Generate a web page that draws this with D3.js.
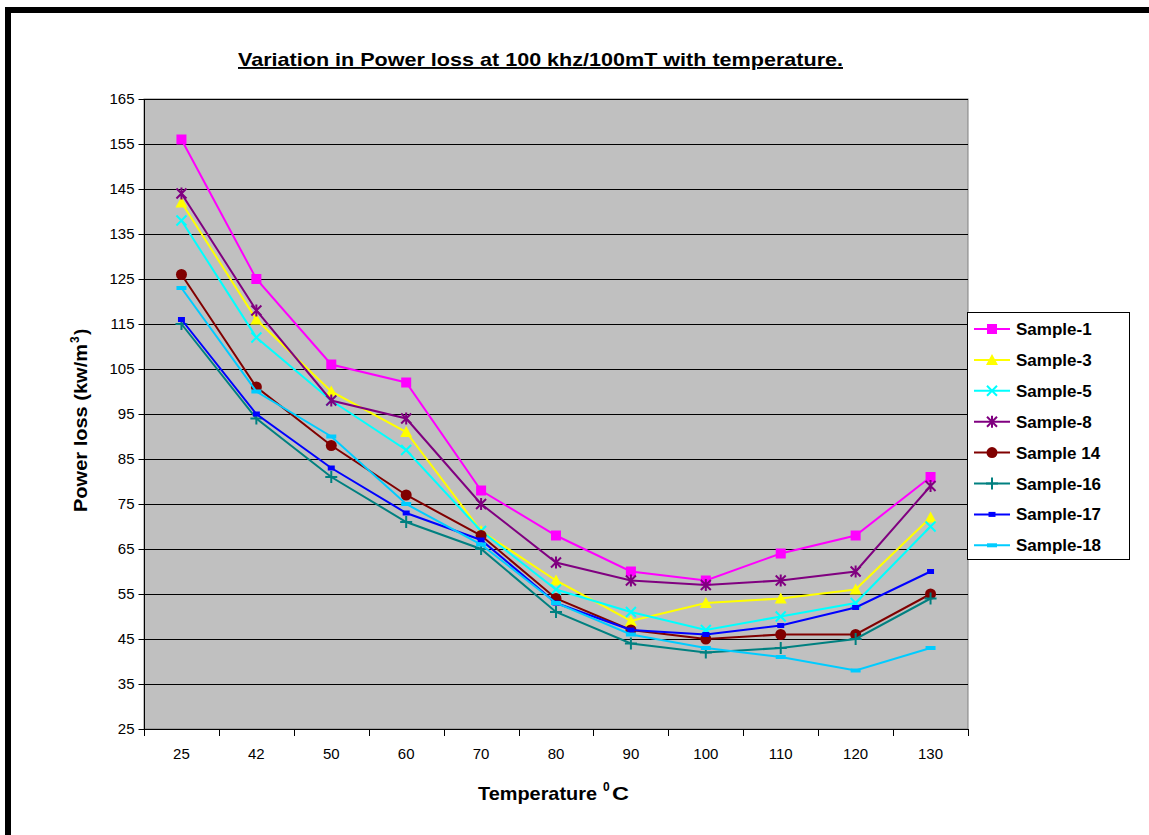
<!DOCTYPE html>
<html><head><meta charset="utf-8">
<script src="https://cdn.jsdelivr.net/npm/d3@7/dist/d3.min.js"></script>
<style>body{margin:0;background:#fff;}svg{display:block;font-family:"Liberation Sans",Arial,sans-serif;}</style>
</head><body>
<svg id="c" width="1149" height="835"></svg>
<script>
const categories = ["25","42","50","60","70","80","90","100","110","120","130"];
const yTicks = [25,35,45,55,65,75,85,95,105,115,125,135,145,155,165];
const seriesNames = ["Sample-1","Sample-3","Sample-5","Sample-8","Sample 14","Sample-16","Sample-17","Sample-18"];
const sample1  = [156,125,106,102,78,68,60,58,64,68,81];
const sample3  = [142,116,100,91,69,58,49,53,54,56,72];
const sample5  = [138,112,98,87,69,56,51,47,50,53,70];
const sample8  = [144,118,98,94,75,62,58,57,58,60,79];
const sample14 = [126,101,88,77,68,54,47,45,46,46,55];
const sample16 = [115,94,81,71,65,51,44,42,43,45,54];
const sample17 = [116,95,83,73,67,53,47,46,48,52,60];
const sample18 = [123,100,90,75,66,53,46,43,41,38,43];
const seriesValues = [sample1,sample3,sample5,sample8,sample14,sample16,sample17,sample18];
const colors = ["#FF00FF","#FFFF00","#00FFFF","#800080","#800000","#008080","#0000FF","#00CCFF"];
const markers = ["square","triangle","x","asterisk","circle","plus","smalldash","dash"];

const svg = d3.select("#c");
// frame
svg.append("rect").attr("x",5).attr("y",7).attr("width",1144).attr("height",6).attr("fill","#000");
svg.append("rect").attr("x",5).attr("y",7).attr("width",6).attr("height",828).attr("fill","#000");

const L=144,R=968,T=99,B=729;
const x = d3.scaleBand().domain(categories).range([L,R]);
const y = d3.scaleLinear().domain([25,165]).range([B,T]);

svg.append("rect").attr("x",L).attr("y",T).attr("width",R-L).attr("height",B-T).attr("fill","#C0C0C0").attr("stroke","#808080").attr("stroke-width",1);

// gridlines
svg.append("g").selectAll("line").data(yTicks.filter(v=>v>25)).join("line")
  .attr("x1",L).attr("x2",R).attr("y1",d=>Math.round(y(d))+0.5).attr("y2",d=>Math.round(y(d))+0.5)
  .attr("stroke","#000").attr("stroke-width",1);

// y axis
const ya = svg.append("g").attr("transform",`translate(${L+0.5},0)`)
  .call(d3.axisLeft(y).tickValues(yTicks).tickSize(6).tickPadding(4).tickFormat(d3.format("d")));
ya.select(".domain").attr("stroke","#000").attr("d",`M0,${T}V${B}`);
ya.selectAll(".tick line").attr("stroke","#000");
ya.selectAll(".tick text").attr("font-size",15).attr("fill","#000").attr("font-family","Liberation Sans, Arial, sans-serif");

// x axis
const xa = svg.append("g").attr("transform",`translate(0,${B+0.5})`)
  .call(d3.axisBottom(x).tickSize(0).tickPadding(19));
xa.select(".domain").attr("stroke","#000").attr("d",`M${L},0H${R}`);
xa.selectAll(".tick text").attr("font-size",15).attr("fill","#000").attr("font-family","Liberation Sans, Arial, sans-serif");
const bounds = categories.map(c=>x(c)).concat([R]);
svg.append("g").selectAll("line").data(bounds).join("line")
  .attr("x1",d=>Math.round(d)+0.5).attr("x2",d=>Math.round(d)+0.5).attr("y1",B).attr("y2",B+7).attr("stroke","#000");

// markers
function drawMarker(g, type, color, cx, cy){
  const s=5;
  if(type==="square") g.append("rect").attr("x",cx-s).attr("y",cy-s).attr("width",2*s).attr("height",2*s).attr("fill",color);
  else if(type==="triangle") g.append("path").attr("d",`M${cx},${cy-6}L${cx+6},${cy+5}L${cx-6},${cy+5}Z`).attr("fill",color);
  else if(type==="circle") g.append("circle").attr("cx",cx).attr("cy",cy).attr("r",5.5).attr("fill",color);
  else if(type==="x") g.append("path").attr("d",`M${cx-5},${cy-5}L${cx+5},${cy+5}M${cx+5},${cy-5}L${cx-5},${cy+5}`).attr("stroke",color).attr("stroke-width",2);
  else if(type==="asterisk") g.append("path").attr("d",`M${cx-5},${cy-5}L${cx+5},${cy+5}M${cx+5},${cy-5}L${cx-5},${cy+5}M${cx},${cy-6}L${cx},${cy+6}`).attr("stroke",color).attr("stroke-width",2);
  else if(type==="plus") g.append("path").attr("d",`M${cx-6},${cy}L${cx+6},${cy}M${cx},${cy-6}L${cx},${cy+6}`).attr("stroke",color).attr("stroke-width",2);
  else if(type==="smalldash") g.append("rect").attr("x",cx-3.5).attr("y",cy-2.5).attr("width",7).attr("height",5).attr("fill",color);
  else if(type==="dash") g.append("rect").attr("x",cx-5).attr("y",cy-2).attr("width",10).attr("height",4).attr("fill",color);
}

const line = d3.line().x((d,i)=>x(categories[i])+x.bandwidth()/2).y(d=>y(d));
seriesValues.forEach((vals,si)=>{
  const g = svg.append("g");
  g.append("path").attr("d",line(vals)).attr("fill","none").attr("stroke",colors[si]).attr("stroke-width",2);
  vals.forEach((v,i)=>drawMarker(g,markers[si],colors[si],x(categories[i])+x.bandwidth()/2,y(v)));
});

// title
svg.append("text").attr("x",238).attr("y",66).attr("font-weight","bold").attr("font-size",19)
  .attr("textLength",605).attr("lengthAdjust","spacingAndGlyphs")
  .attr("text-decoration","underline").text("Variation in Power loss at 100 khz/100mT with temperature.");

// y label
const yl = svg.append("g").attr("transform","translate(87,415) rotate(-90)");
yl.append("text").attr("x",-97).attr("y",0).attr("font-weight","bold").attr("font-size",19)
  .attr("textLength",168).attr("lengthAdjust","spacingAndGlyphs").text("Power loss (kw/m");
yl.append("text").attr("x",72).attr("y",-8).attr("font-weight","bold").attr("font-size",12).text("3");
yl.append("text").attr("x",80).attr("y",0).attr("font-weight","bold").attr("font-size",19).text(")");

// x label
const xl = svg.append("g");
xl.append("text").attr("x",478).attr("y",800).attr("font-weight","bold").attr("font-size",19)
  .attr("textLength",119).attr("lengthAdjust","spacingAndGlyphs").text("Temperature");
xl.append("text").attr("x",603).attr("y",791).attr("font-weight","bold").attr("font-size",12).text("0");
xl.append("text").attr("x",612).attr("y",800).attr("font-weight","bold").attr("font-size",19)
  .attr("textLength",17).attr("lengthAdjust","spacingAndGlyphs").text("C");

// legend
const lg = svg.append("g");
lg.append("rect").attr("x",967.5).attr("y",312.5).attr("width",162).attr("height",247).attr("fill","#fff").attr("stroke","#000").attr("stroke-width",1);
seriesNames.forEach((n,i)=>{
  const cy = 329 + i*30.9;
  lg.append("line").attr("x1",974).attr("x2",1010).attr("y1",cy).attr("y2",cy).attr("stroke",colors[i]).attr("stroke-width",2);
  drawMarker(lg,markers[i],colors[i],992,cy);
  lg.append("text").attr("x",1016).attr("y",cy+6).attr("font-weight","bold").attr("font-size",17).text(n);
});
</script>
</body></html>
